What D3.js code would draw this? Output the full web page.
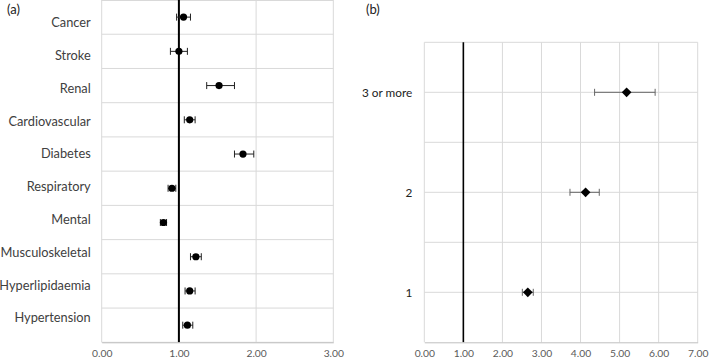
<!DOCTYPE html>
<html>
<head>
<meta charset="utf-8">
<script src="https://cdn.jsdelivr.net/npm/d3@7"></script>
<style>
  body { margin: 0; background: #fff; }
  text { font-family: Lato, "Open Sans", sans-serif; }
</style>
</head>
<body>
<div id="chart"></div>
<script>
// panel (a): conditions
const conditions = ["Cancer", "Stroke", "Renal", "Cardiovascular", "Diabetes",
  "Respiratory", "Mental", "Musculoskeletal", "Hyperlipidaemia", "Hypertension"];
const condEst = [1.06, 1.00, 1.52, 1.14, 1.83, 0.91, 0.80, 1.22, 1.14, 1.11];
const condLow = [0.97, 0.89, 1.36, 1.07, 1.72, 0.86, 0.76, 1.15, 1.08, 1.05];
const condHigh = [1.15, 1.11, 1.72, 1.21, 1.97, 0.96, 0.84, 1.29, 1.21, 1.18];
const ticksA = [0, 1, 2, 3];

// panel (b): number of conditions
const counts = [1, 2, 3];
const countLabels = ["1", "2", "3 or more"];
const countEst = [2.65, 4.13, 5.18];
const countLow = [2.51, 3.73, 4.36];
const countHigh = [2.79, 4.48, 5.91];
const ticksB = [0, 1, 2, 3, 4, 5, 6, 7];

const W = 709, H = 360;
const svg = d3.select("#chart").append("svg")
    .attr("width", W)
    .attr("height", H);

const grid = "#d9d9d9";
const fmt = d3.format(".2f");

// ---------- panel (a) ----------
const xa = d3.scaleLinear().domain([0, 3]).range([101.7, 333.3]);
const ya = d3.scaleBand().domain(conditions).range([0, 342.3]);
// category labels sit on a slightly tighter spacing than the rows
const yl = d3.scaleBand().domain(conditions).range([6.6, 334.6]);

const ga = svg.append("g");

ga.selectAll("line.vgrid")
  .data(ticksA.filter(d => d !== 1))
  .enter().append("line")
    .attr("class", "vgrid")
    .attr("x1", d => xa(d)).attr("x2", d => xa(d))
    .attr("y1", 0).attr("y2", 342.3)
    .attr("stroke", grid);

ga.selectAll("line.hgrid")
  .data(conditions)
  .enter().append("line")
    .attr("class", "hgrid")
    .attr("x1", xa(0)).attr("x2", xa(3))
    .attr("y1", d => ya(d) + ya.bandwidth()).attr("y2", d => ya(d) + ya.bandwidth())
    .attr("stroke", grid);

ga.append("line")
    .attr("x1", xa(0)).attr("x2", xa(3))
    .attr("y1", 0.5).attr("y2", 0.5)
    .attr("stroke", grid);

// reference line at 1
ga.append("line")
    .attr("x1", xa(1)).attr("x2", xa(1))
    .attr("y1", 0).attr("y2", 342.3)
    .attr("stroke", "#000").attr("stroke-width", 2);

const axA = d3.axisBottom(xa).tickValues(ticksA).tickFormat(fmt).tickSize(0).tickPadding(7.5);
ga.append("g")
    .attr("transform", "translate(0,342.3)")
    .call(axA)
    .call(g => g.select(".domain").attr("stroke", "#bfbfbf"))
    .call(g => g.selectAll("text").attr("fill", "#595959").attr("font-size", 10.3)
      .attr("font-family", "Lato, sans-serif"));

const axAy = d3.axisLeft(yl).tickSize(0).tickPadding(11);
ga.append("g")
    .attr("transform", "translate(" + xa(0) + ",0)")
    .call(axAy)
    .call(g => g.select(".domain").remove())
    .call(g => g.selectAll("text").attr("fill", "#404040").attr("font-size", 12.8)
      .attr("font-family", "Lato, sans-serif"));

const rowsA = conditions.map((c, i) => ({c, est: condEst[i], lo: condLow[i], hi: condHigh[i]}));
const barA = ga.selectAll("g.bar").data(rowsA).enter().append("g")
    .attr("transform", d => "translate(0," + (ya(d.c) + ya.bandwidth() / 2) + ")");
barA.append("line")
    .attr("x1", d => xa(d.lo)).attr("x2", d => xa(d.hi))
    .attr("stroke", "#222").attr("stroke-width", 1);
barA.append("line")
    .attr("x1", d => xa(d.lo)).attr("x2", d => xa(d.lo))
    .attr("y1", -3.5).attr("y2", 3.5)
    .attr("stroke", "#222");
barA.append("line")
    .attr("x1", d => xa(d.hi)).attr("x2", d => xa(d.hi))
    .attr("y1", -3.5).attr("y2", 3.5)
    .attr("stroke", "#222");
barA.append("circle")
    .attr("cx", d => xa(d.est))
    .attr("r", 3.6)
    .attr("fill", "#000");

svg.append("text")
    .attr("x", 7).attr("y", 14)
    .attr("font-family", "'Liberation Sans', Arial, sans-serif")
    .attr("font-size", 13).attr("fill", "#222")
    .text("(a)");

// ---------- panel (b) ----------
const xb = d3.scaleLinear().domain([0, 7]).range([424.3, 697.7]);
const yb = d3.scaleLinear().domain([0.5, 3.5]).range([342.3, 42.3]);

const gb = svg.append("g");

gb.selectAll("line.vgrid")
  .data(ticksB.filter(d => d !== 1))
  .enter().append("line")
    .attr("x1", d => xb(d)).attr("x2", d => xb(d))
    .attr("y1", yb(3.5)).attr("y2", yb(0.5))
    .attr("stroke", grid);

gb.selectAll("line.hgrid")
  .data(d3.range(1, 3.51, 0.5))
  .enter().append("line")
    .attr("x1", xb(0)).attr("x2", xb(7))
    .attr("y1", d => yb(d)).attr("y2", d => yb(d))
    .attr("stroke", grid);

gb.append("line")
    .attr("x1", xb(1)).attr("x2", xb(1))
    .attr("y1", yb(3.5)).attr("y2", yb(0.5))
    .attr("stroke", "#000").attr("stroke-width", 1.6);

const axB = d3.axisBottom(xb).tickValues(ticksB).tickFormat(fmt).tickSize(0).tickPadding(7.5);
gb.append("g")
    .attr("transform", "translate(0," + yb(0.5) + ")")
    .call(axB)
    .call(g => g.select(".domain").attr("stroke", "#bfbfbf"))
    .call(g => g.selectAll("text").attr("fill", "#595959").attr("font-size", 10.3)
      .attr("font-family", "Lato, sans-serif"));

const axBy = d3.axisLeft(yb).tickValues(counts).tickFormat((d, i) => countLabels[i])
    .tickSize(0).tickPadding(12);
gb.append("g")
    .attr("transform", "translate(" + xb(0) + ",0)")
    .call(axBy)
    .call(g => g.select(".domain").remove())
    .call(g => g.selectAll("text").attr("fill", "#222").attr("font-size", 11.8)
      .attr("font-family", "Lato, sans-serif"));

const rowsB = counts.map((c, i) => ({c, est: countEst[i], lo: countLow[i], hi: countHigh[i]}));
const barB = gb.selectAll("g.bar").data(rowsB).enter().append("g")
    .attr("transform", d => "translate(0," + yb(d.c) + ")");
barB.append("line")
    .attr("x1", d => xb(d.lo)).attr("x2", d => xb(d.hi))
    .attr("stroke", "#666").attr("stroke-width", 1);
barB.append("line")
    .attr("x1", d => xb(d.lo)).attr("x2", d => xb(d.lo))
    .attr("y1", -3.5).attr("y2", 3.5)
    .attr("stroke", "#666");
barB.append("line")
    .attr("x1", d => xb(d.hi)).attr("x2", d => xb(d.hi))
    .attr("y1", -3.5).attr("y2", 3.5)
    .attr("stroke", "#666");
barB.append("path")
    .attr("d", d3.symbol(d3.symbolDiamond2, 60))
    .attr("transform", d => "translate(" + xb(d.est) + ",0)")
    .attr("fill", "#000");

svg.append("text")
    .attr("x", 366).attr("y", 14)
    .attr("font-family", "'Liberation Sans', Arial, sans-serif")
    .attr("font-size", 13).attr("fill", "#222")
    .text("(b)");
</script>
</body>
</html>
